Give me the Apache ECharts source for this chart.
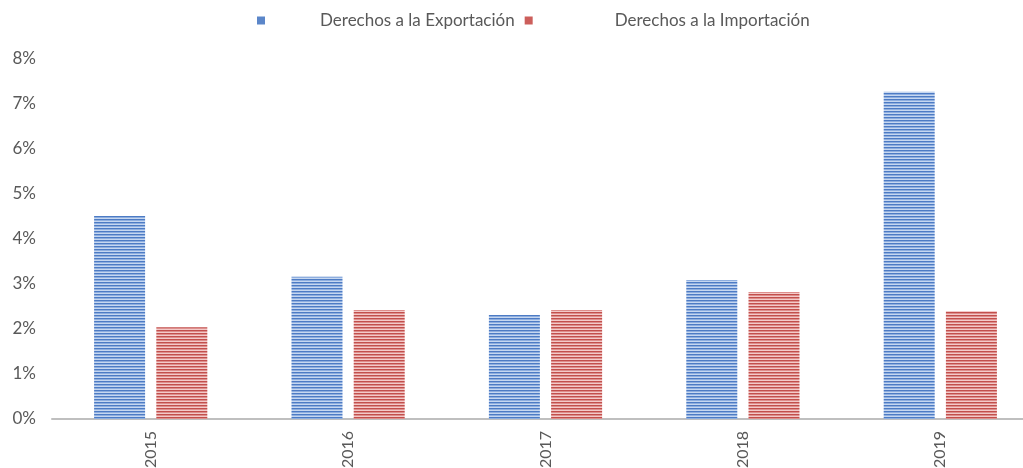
<!DOCTYPE html>
<html><head><meta charset="utf-8">
<script src="https://cdn.jsdelivr.net/npm/echarts@6/dist/echarts.min.js"></script>
<style>html,body{margin:0;padding:0;background:#fff}#c{width:1023px;height:468px}</style>
</head><body><div id="c"></div>
<script>
var categories = ['2015', '2016', '2017', '2018', '2019'];
var exportacion = [0.0451, 0.0316, 0.0231, 0.0309, 0.0727];
var importacion = [0.0204, 0.0242, 0.0242, 0.0282, 0.0240];
var seriesNames = ['Derechos a la Exportación', 'Derechos a la Importación'];
var yTicks = [0, 0.01, 0.02, 0.03, 0.04, 0.05, 0.06, 0.07, 0.08];

function stripes(cols) {
  var c = document.createElement('canvas');
  c.width = 4; c.height = cols.length;
  var ctx = c.getContext('2d');
  cols.forEach(function (col, i) { ctx.fillStyle = col; ctx.fillRect(0, i, 4, 1); });
  return { image: c, repeat: 'repeat' };
}
var bluePat = stripes(['#4d7bc4', '#8eaedf', '#c6d7f0']);
var redPat = stripes(['#c24f4c', '#dd8e8c', '#f3cac9']);

var chart = echarts.init(document.getElementById('c'), null, { renderer: 'canvas' });
chart.setOption({
  animation: false,
  textStyle: { fontFamily: 'Lato, Liberation Sans, sans-serif' },
  legend: {
    top: 7, left: 252,
    itemWidth: 8, itemHeight: 8, itemGap: 10,
    icon: 'rect',
    textStyle: { fontSize: 17, color: '#595959' },
    data: [
      { name: seriesNames[0], itemStyle: { color: '#5b86c9' }, textStyle: { padding: [0, 0, 0, 50] } },
      { name: seriesNames[1], itemStyle: { color: '#cc5e5b' }, textStyle: { padding: [0, 0, 0, 77] } }
    ]
  },
  grid: { left: 52, top: 59, bottom: 49, right: -16, containLabel: false, outerBoundsMode: 'none' },
  xAxis: {
    type: 'category', data: categories,
    axisLine: { lineStyle: { color: '#bfbfbf', width: 2 } },
    axisTick: { show: false },
    axisLabel: { rotate: 90, fontSize: 16, color: '#595959', margin: 12 }
  },
  yAxis: {
    type: 'value', min: 0, max: 0.08, interval: 0.01,
    splitLine: { show: false },
    axisLine: { show: false }, axisTick: { show: false },
    axisLabel: {
      fontSize: 17, color: '#595959', margin: 16,
      formatter: function (v) { return Math.round(v * 100) + '%'; }
    }
  },
  series: [
    { name: seriesNames[0], type: 'bar', data: exportacion, barWidth: 51, barGap: '22%',
      itemStyle: { color: bluePat } },
    { name: seriesNames[1], type: 'bar', data: importacion, barWidth: 51,
      itemStyle: { color: redPat } }
  ]
});
</script></body></html>
